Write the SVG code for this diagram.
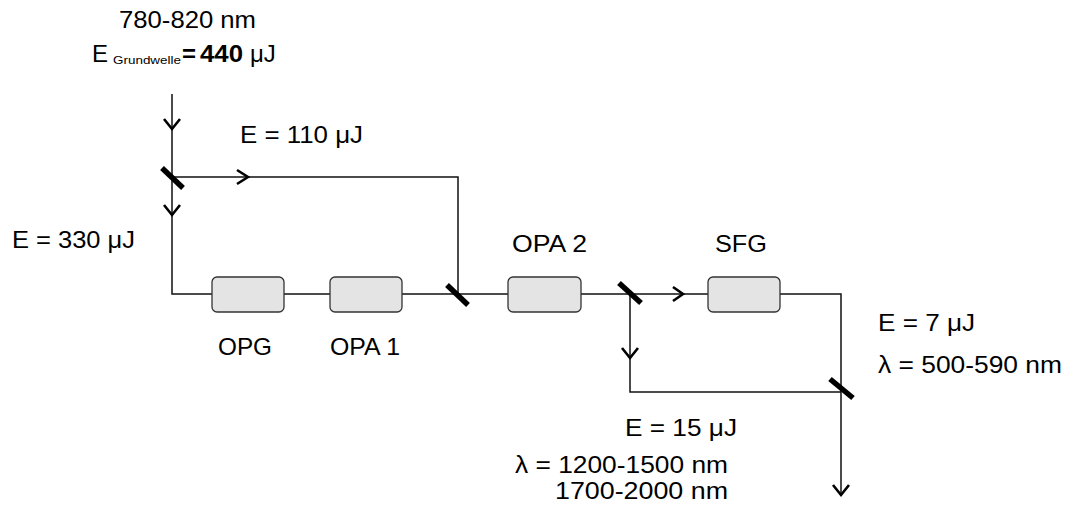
<svg xmlns="http://www.w3.org/2000/svg" width="1071" height="514" viewBox="0 0 1071 514">
<style>
text{font-family:"Liberation Sans",Arial,sans-serif;font-size:24px;fill:#000}
.beam{fill:none;stroke:#111;stroke-width:1.5}
.arr{fill:none;stroke:#000;stroke-width:2.6;stroke-linejoin:miter}
.mir{stroke:#000;stroke-width:5.5}
.box{fill:#e4e4e4;stroke:#333;stroke-width:1.3}
</style>
<rect width="1071" height="514" fill="#fff"/>
<g id="connectors">
<path class="beam" d="M172 94 V294 H841 V495"/>
<path class="beam" d="M172 177 H458 V294"/>
<path class="beam" d="M630 294 V392 H841"/>
<polyline class="arr" points="164,119 172,129 180,119"/>
<polyline class="arr" points="164,205 172,215 180,205"/>
<polyline class="arr" points="237,170 248,177 237,184"/>
<polyline class="arr" points="673,287 683,294 673,301"/>
<polyline class="arr" points="622,348 630,358 638,348"/>
<polyline class="arr" points="833,485 841,495 849,485"/>
<line class="mir" x1="162" y1="168" x2="183" y2="188"/>
<line class="mir" x1="447" y1="285" x2="468" y2="305"/>
<line class="mir" x1="619" y1="283" x2="641" y2="303"/>
<line class="mir" x1="830" y1="379" x2="853" y2="398"/>
</g>
<g id="opg"><rect class="box" x="212" y="277" width="72" height="35" rx="5"/><text x="218" y="355" textLength="54" lengthAdjust="spacingAndGlyphs">OPG</text></g>
<g id="opa1"><rect class="box" x="330" y="277" width="72" height="35" rx="5"/><text x="330" y="355" textLength="70" lengthAdjust="spacingAndGlyphs">OPA 1</text></g>
<g id="opa2"><rect class="box" x="508" y="277" width="73" height="35" rx="5"/><text x="512" y="252" textLength="75" lengthAdjust="spacingAndGlyphs">OPA 2</text></g>
<g id="sfg"><rect class="box" x="708" y="277" width="72" height="35" rx="5"/><text x="715" y="252" textLength="52" lengthAdjust="spacingAndGlyphs">SFG</text></g>
<g id="labels">
<text x="119" y="28" textLength="137" lengthAdjust="spacingAndGlyphs">780-820 nm</text>
<text x="92" y="62">E</text>
<text x="113" y="64" style="font-size:10.5px" textLength="68" lengthAdjust="spacingAndGlyphs">Grundwelle</text>
<text x="182" y="62" style="font-weight:bold">=</text>
<text x="200" y="62" style="font-weight:bold" textLength="43" lengthAdjust="spacingAndGlyphs">440</text>
<text x="250" y="62">μJ</text>
<text x="240" y="143" textLength="123" lengthAdjust="spacingAndGlyphs">E = 110 μJ</text>
<text x="12" y="248" textLength="123" lengthAdjust="spacingAndGlyphs">E = 330 μJ</text>
<text x="878" y="331" textLength="97" lengthAdjust="spacingAndGlyphs">E = 7 μJ</text>
<text x="878" y="373" textLength="184" lengthAdjust="spacingAndGlyphs">λ = 500-590 nm</text>
<text x="625" y="436" textLength="112" lengthAdjust="spacingAndGlyphs">E = 15 μJ</text>
<text x="515" y="473" textLength="213" lengthAdjust="spacingAndGlyphs">λ = 1200-1500 nm</text>
<text x="555" y="499" textLength="173" lengthAdjust="spacingAndGlyphs">1700-2000 nm</text>
</g>
</svg>
